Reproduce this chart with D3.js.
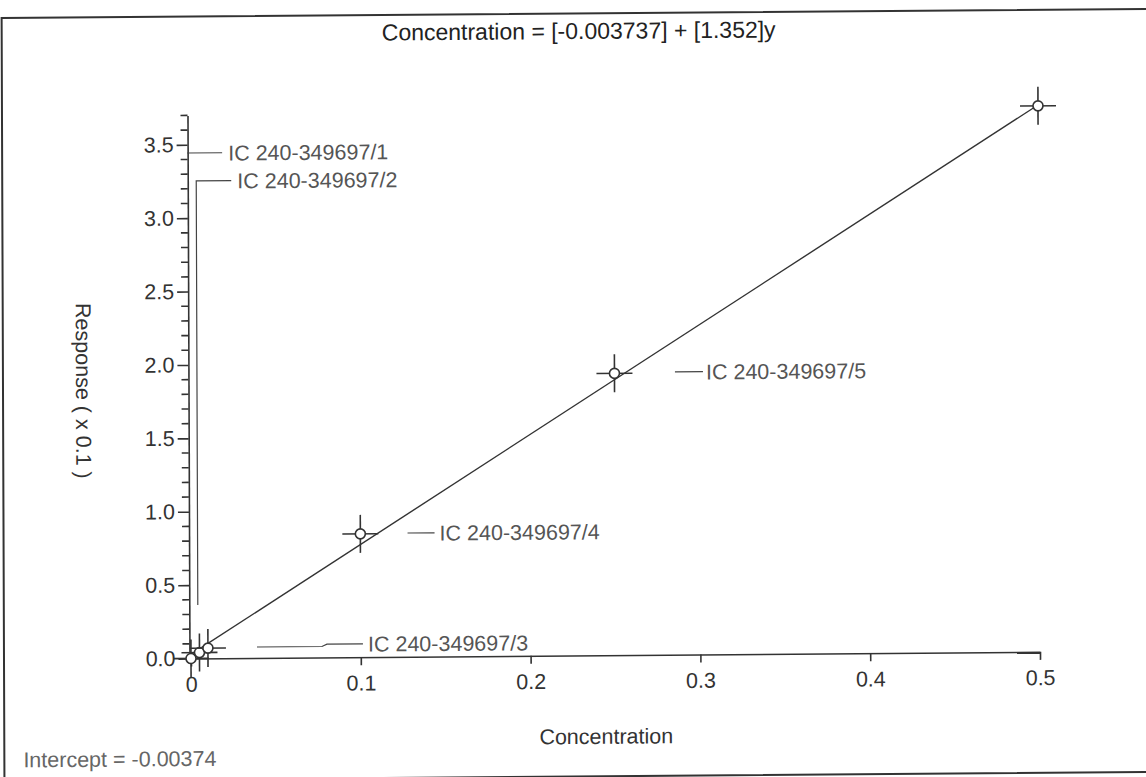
<!DOCTYPE html>
<html>
<head>
<meta charset="utf-8">
<script src="https://cdn.jsdelivr.net/npm/d3@7/dist/d3.min.js"></script>
<style>
  html, body { margin: 0; padding: 0; background: #fff; }
  svg { display: block; }
  text { font-family: "Liberation Sans", Arial, Helvetica, sans-serif; }
</style>
</head>
<body>
<svg id="chart" width="1146" height="777"></svg>
<script>
// ---- data ----
const concentration = [0, 0.005, 0.01, 0.1, 0.25, 0.5];
const response = [0, 0.04, 0.07, 0.84, 1.92, 3.72];
const pointLabels = ["IC 240-349697/1", "IC 240-349697/2", "IC 240-349697/3", "IC 240-349697/4", "IC 240-349697/5", null];
const xTicks = [0, 0.1, 0.2, 0.3, 0.4, 0.5];
const xTickLabels = ["0", "0.1", "0.2", "0.3", "0.4", "0.5"];
const yMajorTicks = [0, 0.5, 1.0, 1.5, 2.0, 2.5, 3.0, 3.5];
const yTickLabels = ["0.0", "0.5", "1.0", "1.5", "2.0", "2.5", "3.0", "3.5"];
const yMinorTicks = [0.1,0.2,0.3,0.4,0.6,0.7,0.8,0.9,1.1,1.2,1.3,1.4,1.6,1.7,1.8,1.9,2.1,2.2,2.3,2.4,2.6,2.7,2.8,2.9,3.1,3.2,3.3,3.4,3.6,3.7];
const fitIntercept = -0.003737;
const fitSlope = 1.352;
const titleText = "Concentration = [-0.003737] + [1.352]y";
const xTitle = "Concentration";
const yTitle = "Response ( x 0.1 )";
const interceptText = "Intercept = -0.00374";

// ---- layout ----
const x0 = 191, x1 = 1040, yBase = 658.5, yTop = 115.4;
const x = d3.scaleLinear().domain([0, 0.5]).range([x0, x1]);
const y = d3.scaleLinear().domain([0, 3.7]).range([yBase, yTop]);
const ink = "#333";
const fs = 21.5;

const svg = d3.select("#chart");
// slight scan skew of the reference page
const root = svg.append("g")
  .attr("transform", `translate(${x0},${yBase}) matrix(1,-0.0078,0.0037,1,0,0) translate(${-x0},${-yBase})`);

// frame
root.append("rect").attr("x", 4).attr("y", 16.5).attr("width", 1300).attr("height", 763)
  .attr("fill", "none").attr("stroke", ink).attr("stroke-width", 2);

// title
root.append("text").attr("x", 581).attr("y", 42).attr("text-anchor", "middle")
  .attr("font-size", 23).attr("fill", "#222").text(titleText);

// x axis
const xAxis = d3.axisBottom(x).tickValues(xTicks)
  .tickFormat((d, i) => xTickLabels[i]).tickSizeInner(8).tickSizeOuter(0).tickPadding(10);
const gx = root.append("g").attr("transform", `translate(0,${yBase})`).call(xAxis);
gx.select(".domain").attr("stroke", ink).attr("stroke-width", 1.6);
gx.selectAll(".tick line").attr("stroke", ink).attr("stroke-width", 1.6);
gx.selectAll(".tick text").attr("font-size", fs).attr("fill", "#333")
  .attr("font-family", "Liberation Sans, Arial, sans-serif");

// y axis (major)
const yAxis = d3.axisLeft(y).tickValues(yMajorTicks)
  .tickFormat((d, i) => yTickLabels[i]).tickSizeInner(11).tickSizeOuter(0).tickPadding(3);
const gy = root.append("g").attr("transform", `translate(${x0 - 1.5},0)`).call(yAxis);
gy.select(".domain").attr("stroke", ink).attr("stroke-width", 1.6);
gy.selectAll(".tick line").attr("stroke", ink).attr("stroke-width", 1.6);
gy.selectAll(".tick text").attr("font-size", fs).attr("fill", "#333")
  .attr("font-family", "Liberation Sans, Arial, sans-serif");
// y minor ticks
root.append("g").selectAll("line").data(yMinorTicks).join("line")
  .attr("x1", x0 - 1.5).attr("x2", x0 - 8.5)
  .attr("y1", d => y(d)).attr("y2", d => y(d))
  .attr("stroke", ink).attr("stroke-width", 1.6);

// regression line
const fitX = [0, 0.5];
root.append("line")
  .attr("x1", x(fitX[0])).attr("y1", y((fitX[0] - fitIntercept) / fitSlope * 10))
  .attr("x2", x(fitX[1])).attr("y2", y((fitX[1] - fitIntercept) / fitSlope * 10))
  .attr("stroke", ink).attr("stroke-width", 1.4);

// points with error crosses
const pts = concentration.map((c, i) => ({ c, r: response[i], label: pointLabels[i] }));
const gp = root.append("g").selectAll("g").data(pts).join("g")
  .attr("transform", d => `translate(${x(d.c)},${y(d.r)})`);
gp.append("line").attr("x1", -18).attr("x2", 18).attr("y1", 0).attr("y2", 0)
  .attr("stroke", ink).attr("stroke-width", 1.6);
gp.append("line").attr("x1", 0).attr("x2", 0).attr("y1", -19).attr("y2", 19)
  .attr("stroke", ink).attr("stroke-width", 1.6);
gp.append("circle").attr("r", 5).attr("fill", "#fff").attr("stroke", ink).attr("stroke-width", 1.6);

// point labels with leader lines (leader layout in pixels)
const labelLayout = [
  { path: [[189, 153], [224, 153]], tx: 230, ty: 153 },
  { path: [[198, 605], [198, 181], [233, 181]], tx: 239, ty: 181 },
  { path: [[257, 647.5], [322, 647.5], [327, 645.2], [363, 645.2]], tx: 368, ty: 645.2 },
  { path: [[408, 534.7], [435, 534.7]], tx: 440, ty: 534.7 },
  { path: [[676, 375.7], [704, 375.7]], tx: 707, ty: 375.7 }
];
const lbl = pts.filter(d => d.label);
const gl = root.append("g");
lbl.forEach((d, i) => {
  const L = labelLayout[i];
  gl.append("path").attr("d", d3.line()(L.path)).attr("fill", "none")
    .attr("stroke", "#444").attr("stroke-width", 1.2);
  gl.append("text").attr("x", L.tx).attr("y", L.ty).attr("dy", "0.36em")
    .attr("font-size", fs).attr("fill", "#555").text(d.label);
});

// axis titles
root.append("text").attr("x", 606).attr("y", 747).attr("text-anchor", "middle")
  .attr("font-size", fs).attr("fill", "#333").text(xTitle);
root.append("text").attr("transform", "translate(77,390) rotate(90)").attr("text-anchor", "middle")
  .attr("font-size", fs).attr("fill", "#333").text(yTitle);

// intercept note
root.append("text").attr("x", 23).attr("y", 766)
  .attr("font-size", fs).attr("fill", "#666").text(interceptText);
</script>
</body>
</html>
